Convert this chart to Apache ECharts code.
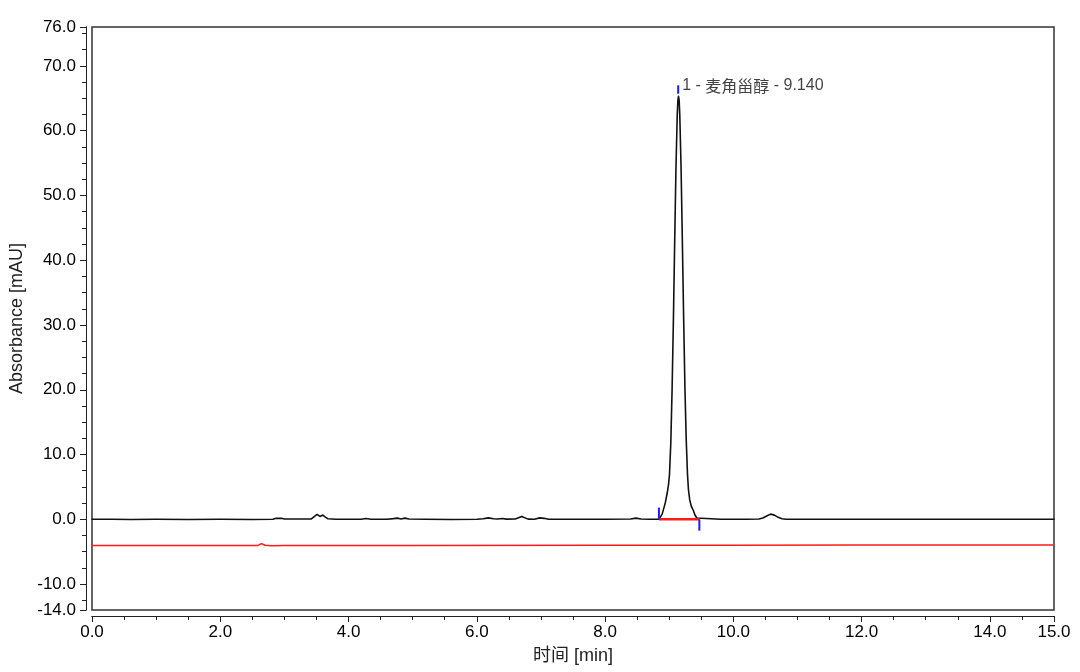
<!DOCTYPE html>
<html>
<head>
<meta charset="utf-8">
<script src="https://cdn.jsdelivr.net/npm/echarts@6/dist/echarts.min.js"></script>
<style>html,body{margin:0;padding:0;background:#fff;}#c{width:1080px;height:672px;}</style>
</head>
<body>
<div id="c"></div>
<script>
// ---- data ----
const traceBlack = [
  [0.0,0.0],[0.3,0.0],[0.6,-0.02],[1.0,0.0],[1.5,-0.03],[2.0,0.0],[2.5,-0.02],[2.82,0.0],
  [2.87,0.15],[2.95,0.15],[3.0,0.05],[3.2,0.05],[3.42,0.05],[3.47,0.45],[3.51,0.75],[3.555,0.45],
  [3.6,0.65],[3.64,0.35],[3.68,0.08],[3.8,0.0],[4.0,0.0],[4.2,0.02],[4.27,0.12],[4.35,0.02],
  [4.6,0.0],[4.7,0.1],[4.76,0.18],[4.82,0.06],[4.88,0.18],[4.94,0.05],[5.2,0.0],[5.6,-0.02],
  [6.0,0.0],[6.1,0.08],[6.18,0.22],[6.26,0.08],[6.32,0.05],[6.4,0.12],[6.46,0.03],[6.6,0.05],
  [6.7,0.45],[6.8,0.03],[6.9,0.0],[6.98,0.22],[7.05,0.15],[7.12,0.0],[7.5,0.0],[8.0,0.02],
  [8.4,0.05],[8.48,0.18],[8.56,0.05],[8.7,0.0],
  [8.84,0.0],[8.87,0.3],[8.89,0.8],[8.91,1.5],[8.94,2.6],[8.97,4.1],[8.99,5.4],[9.005,7.0],
  [9.025,11.8],[9.045,20.0],[9.065,30.5],[9.085,42.5],[9.105,54.0],[9.125,62.3],[9.135,64.6],[9.145,65.3],
  [9.155,64.7],[9.165,62.4],[9.185,54.3],[9.205,43.0],[9.225,31.2],[9.245,20.4],[9.265,12.4],[9.285,7.0],
  [9.30,4.6],[9.32,3.0],[9.345,2.0],[9.375,1.4],[9.40,0.7],[9.43,0.2],[9.46,0.0],
  [9.8,0.0],[10.2,0.0],[10.4,0.05],[10.46,0.2],[10.52,0.5],[10.58,0.8],[10.64,0.65],[10.7,0.3],[10.76,0.08],[10.82,0.0],
  [11.2,0.0],[12.0,0.0],[13.0,0.0],[14.0,0.0],[15.0,0.0]
];
const traceRed = [
  [0.0,-4.05],[1.0,-4.05],[2.0,-4.05],[2.58,-4.05],[2.64,-3.75],[2.7,-4.0],[2.8,-4.1],[3.0,-4.05],
  [5.0,-4.05],[8.0,-4.0],[10.0,-4.0],[12.0,-3.98],[15.0,-3.95]
];
const peakBaseline = [[8.84,0.0],[9.47,0.0]];
const markerStart = [[8.84,0.0],[8.84,1.8]];
const markerEnd = [[9.47,0.0],[9.47,-1.75]];
const markerApex = [[9.14,65.7],[9.14,67.0]];
const peakLabelPoint = [[9.14,66.9]];
const peakName = '麦角甾醇';
const peakNo = '1';
const peakTime = '9.140';
const xMajorTicks = [0,2,4,6,8,10,12,14,15];
const xMinorTicks = [0.5,1,1.5,2.5,3,3.5,4.5,5,5.5,6.5,7,7.5,8.5,9,9.5,10.5,11,11.5,12.5,13,13.5,14.5];
const yMajorTicks = [-14,-10,0,10,20,30,40,50,60,70,76];
const yMinorTicks = [-12.5,-7.5,-5,-2.5,2.5,5,7.5,12.5,15,17.5,22.5,25,27.5,32.5,35,37.5,42.5,45,47.5,52.5,55,57.5,62.5,65,67.5,72.5,75];

const FONT = '"Liberation Sans", Arial, "Noto Sans CJK SC", sans-serif';
const axisColor = '#222';

const chart = echarts.init(document.getElementById('c'), null, {renderer:'canvas'});
const baseX = {
  type:'value', min:0, max:15, position:'bottom', offset:6,
  splitLine:{show:false},
  axisLine:{show:true, onZero:false, lineStyle:{color:axisColor, width:1}}
};
const baseY = {
  type:'value', min:-14, max:76, position:'left', offset:6,
  splitLine:{show:false},
  axisLine:{show:true, onZero:false, lineStyle:{color:axisColor, width:1}}
};
chart.setOption({
  animation:false,
  backgroundColor:'#fff',
  grid:{left:92, right:26, top:27, bottom:62, show:true, borderColor:'#333', borderWidth:1.5, backgroundColor:'transparent'},
  xAxis:[
    Object.assign({}, baseX, {
      name:'时间 [min]', nameLocation:'middle', nameGap:31,
      nameTextStyle:{fontFamily:FONT, fontSize:18, color:'#222'},
      axisTick:{show:true, customValues:xMajorTicks, length:6, lineStyle:{color:axisColor}},
      axisLabel:{show:true, customValues:xMajorTicks, margin:8, fontFamily:FONT, fontSize:17, color:'#000',
        formatter:(v)=>Number(v).toFixed(1)}
    }),
    Object.assign({}, baseX, {
      axisTick:{show:true, customValues:xMinorTicks, length:4, lineStyle:{color:axisColor}},
      axisLabel:{show:false}
    })
  ],
  yAxis:[
    Object.assign({}, baseY, {
      name:'Absorbance [mAU]', nameLocation:'middle', nameGap:54,
      nameTextStyle:{fontFamily:FONT, fontSize:18, color:'#222'},
      axisTick:{show:true, customValues:yMajorTicks, length:6, lineStyle:{color:axisColor}},
      axisLabel:{show:true, customValues:yMajorTicks, margin:10, fontFamily:FONT, fontSize:17, color:'#000',
        formatter:(v)=>Number(v).toFixed(1)}
    }),
    Object.assign({}, baseY, {
      axisTick:{show:true, customValues:yMinorTicks, length:4, lineStyle:{color:axisColor}},
      axisLabel:{show:false}
    })
  ],
  series:[
    {type:'line', data:traceRed, showSymbol:false, symbol:'none', smooth:false,
      lineStyle:{color:'#ff1a1a', width:1.5}, z:2},
    {type:'line', data:traceBlack, showSymbol:false, symbol:'none', smooth:false,
      lineStyle:{color:'#111', width:1.6, join:'round', cap:'round'}, z:3},
    {type:'line', data:peakBaseline, showSymbol:false, symbol:'none',
      lineStyle:{color:'#ff1a1a', width:2.5}, z:4},
    {type:'line', data:markerStart, showSymbol:false, symbol:'none', lineStyle:{color:'#1a1aff', width:2}, z:5},
    {type:'line', data:markerEnd, showSymbol:false, symbol:'none', lineStyle:{color:'#1a1aff', width:2}, z:5},
    {type:'line', data:markerApex, showSymbol:false, symbol:'none', lineStyle:{color:'#1a1aff', width:2}, z:5},
    {type:'scatter', data:peakLabelPoint, symbolSize:0, silent:true, z:6,
      label:{show:true, position:'right', distance:4,
        formatter:()=>'{a|'+peakNo+' - }{b|'+peakName+'}{a| - '+peakTime+'}',
        rich:{
          a:{fontFamily:FONT, fontSize:16, color:'#111'},
          b:{fontFamily:'"Noto Sans CJK SC", sans-serif', fontSize:16, color:'#111'}
        }}}
  ]
});
</script>
</body>
</html>
